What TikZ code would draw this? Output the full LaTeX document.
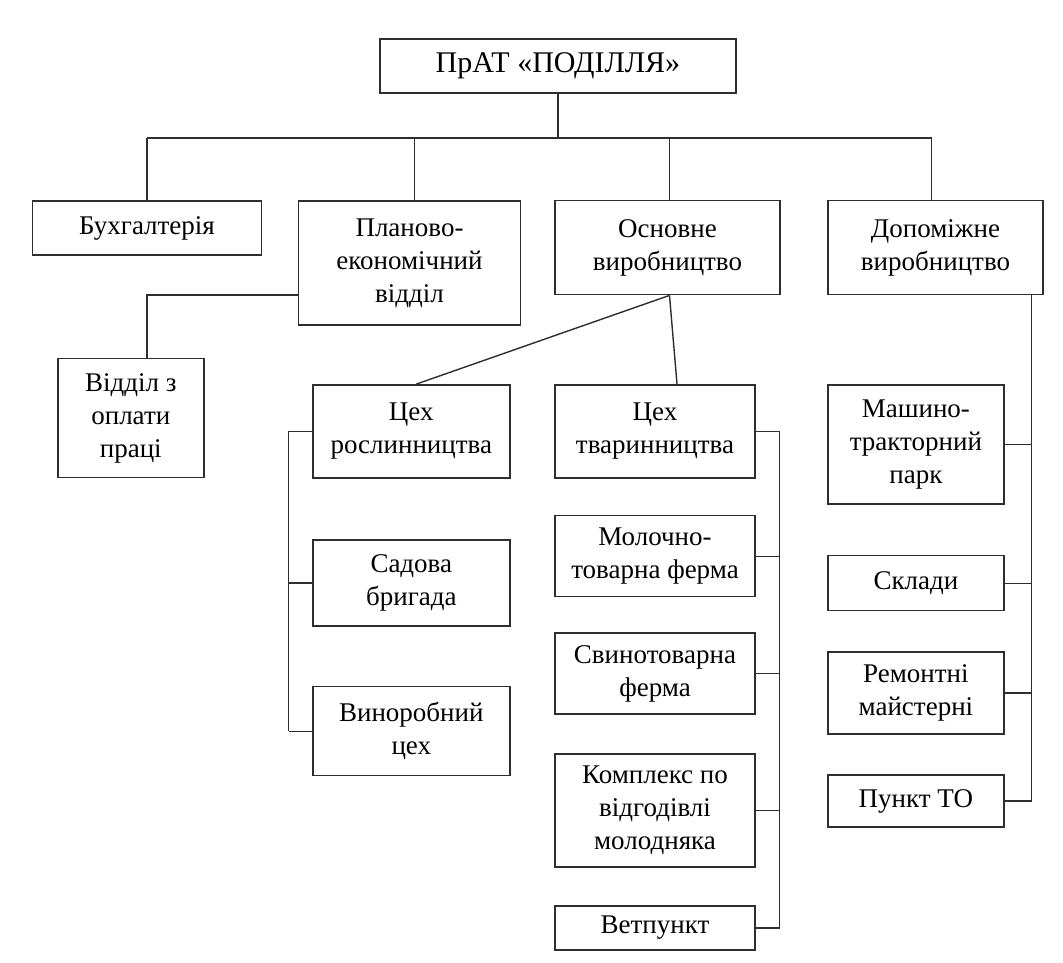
\documentclass[tikz,border=0pt]{standalone}
\usepackage{fontspec}
\setmainfont{Liberation Serif}
\usepackage{tikz}
\usetikzlibrary{calc}

\begin{document}
\begin{tikzpicture}[x=1pt, y=-1pt,
  font=\fontsize{27}{33}\selectfont,
  box/.style={draw=black!82, line width=1.4pt, align=center, inner sep=2pt},
  link/.style={draw=black!82, line width=1.4pt}]
\useasboundingbox (0,0) rectangle (1063,963);
\node[box, font=\fontsize{30}{36}\selectfont, minimum width=356pt, minimum height=54pt] (prat) at (558,66) {ПрАТ «ПОДІЛЛЯ»};
\node[box, minimum width=229pt, minimum height=54pt] (buh) at (147,228) {Бухгалтерія};
\node[box, minimum width=222pt, minimum height=124pt] (plan) at (409.5,263) {Планово-\\економічний\\відділ};
\node[box, minimum width=225pt, minimum height=94pt] (osn) at (667.5,247.7) {Основне\\виробництво};
\node[box, minimum width=215pt, minimum height=94pt] (dop) at (935.5,247.7) {Допоміжне\\виробництво};
\node[box, minimum width=146pt, minimum height=119pt] (opl) at (130.8,418) {Відділ з\\оплати\\праці};
\node[box, minimum width=197pt, minimum height=93pt] (rosl) at (411.3,431.3) {Цех\\рослинництва};
\node[box, minimum width=197pt, minimum height=86pt] (sad) at (411.3,583) {Садова\\бригада};
\node[box, minimum width=197pt, minimum height=89pt] (vyn) at (411.3,731.2) {Виноробний\\цех};
\node[box, minimum width=200pt, minimum height=93pt] (tvar) at (655,431.3) {Цех\\тваринництва};
\node[box, minimum width=200pt, minimum height=81pt] (mol) at (655,556.2) {Молочно-\\товарна ферма};
\node[box, minimum width=200pt, minimum height=81pt] (svyn) at (655,673.5) {Свинотоварна\\ферма};
\node[box, minimum width=200pt, minimum height=113pt] (kompl) at (655,810.3) {Комплекс по\\відгодівлі\\молодняка};
\node[box, minimum width=200pt, minimum height=44pt] (vet) at (655,927.8) {Ветпункт};
\node[box, minimum width=176pt, minimum height=119pt] (mash) at (915.9,444.5) {Машино-\\тракторний\\парк};
\node[box, minimum width=176pt, minimum height=55pt] (skl) at (915.9,583.2) {Склади};
\node[box, minimum width=176pt, minimum height=82pt] (rem) at (915.9,693) {Ремонтні\\майстерні};
\node[box, minimum width=176pt, minimum height=52pt] (punkt) at (915.9,801) {Пункт ТО};
\coordinate (bus) at (0,138);
\coordinate (rbus) at (288.6,0);
\coordinate (tbus) at (779.5,0);
\coordinate (dbus) at (1031.7,0);
\draw[link] (prat.south) -- (prat.south |- bus);
\draw[link] (buh.north |- bus) -- ([xshift=-4pt]dop.north |- bus);
\foreach \n/\dx in {buh/0, plan/5, osn/2, dop/-4} \draw[link] ([xshift=\dx pt]\n.north |- bus) -- ([xshift=\dx pt]\n.north);
\draw[link] ([yshift=-32pt]plan.west) -| ([xshift=16pt]opl.north);
\draw[link] ([xshift=2pt]osn.south) -- ([xshift=5pt]rosl.north);
\draw[link] ([xshift=2pt]osn.south) -- ([xshift=22pt]tvar.north);
\draw[link] (rosl.west -| rbus) -- (vyn.west -| rbus);
\foreach \n in {rosl,sad,vyn} \draw[link] (\n.west) -- (\n.west -| rbus);
\draw[link] (tvar.east -| tbus) -- (vet.east -| tbus);
\foreach \n in {tvar,mol,svyn,kompl,vet} \draw[link] (\n.east) -- (\n.east -| tbus);
\draw[link] (dop.south -| dbus) -- (punkt.east -| dbus);
\foreach \n in {mash,skl,rem,punkt} \draw[link] (\n.east) -- (\n.east -| dbus);
\end{tikzpicture}
\end{document}
